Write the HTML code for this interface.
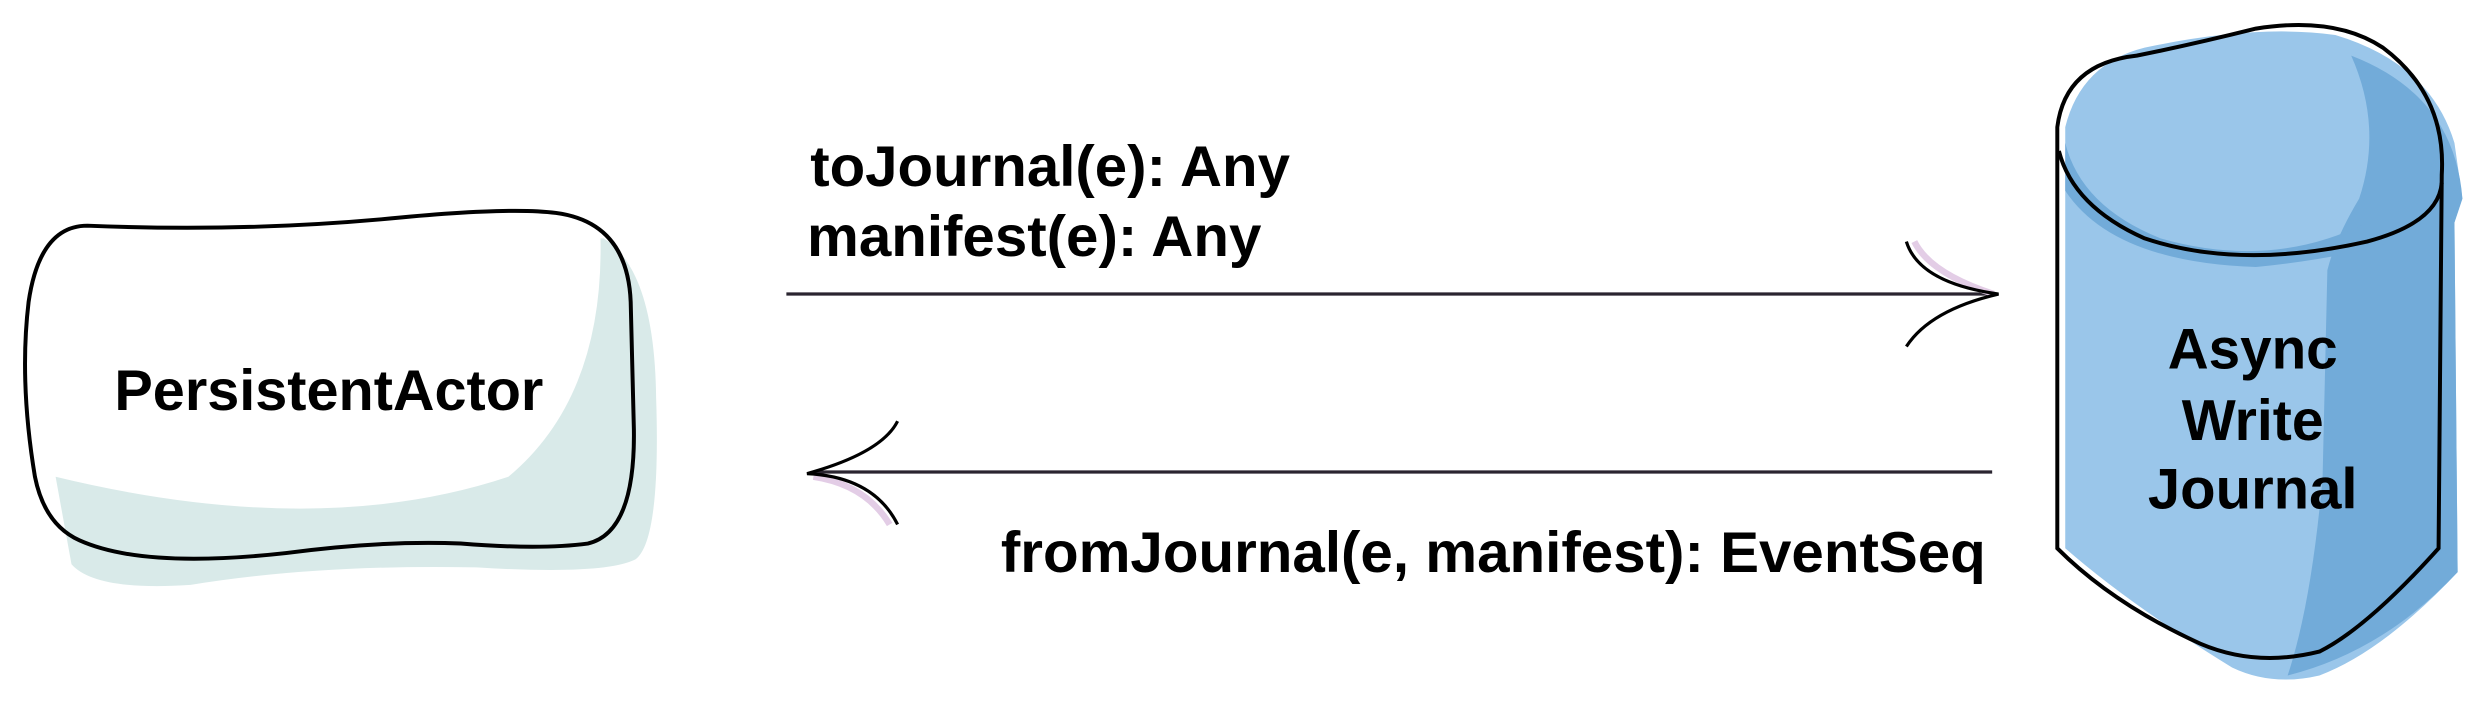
<!DOCTYPE html>
<html><head><meta charset="utf-8"><style>
html,body{margin:0;padding:0;background:#fff;width:2491px;height:712px;overflow:hidden}
svg{display:block}
text{font-family:"Liberation Sans",Arial,sans-serif;font-weight:bold;fill:#000}
</style></head><body>
<svg width="2491" height="712" viewBox="0 0 1568 448" preserveAspectRatio="none">
<path d="M380,150 Q412,170 413,250 Q416,340 400,352 Q380,362 300,357 Q200,355 120,368 Q60,372 45,355 L35,300 Q200,340 320,300 Q380,250 378,150 Z" fill="#d9eae9"/>
<path d="M55,142 Q150,146 240,138 Q320,130 350,134 Q395,140 397,190 L399,270 Q400,335 370,342 Q340,346 290,342 Q240,340 180,348 Q90,358 50,340 Q28,330 22,300 Q12,240 18,190 Q25,142 55,142 Z" fill="none" stroke="#000" stroke-width="2.5"/>
<text x="207" y="258" font-size="36" text-anchor="middle" textLength="270" lengthAdjust="spacingAndGlyphs">PersistentActor</text>
<text x="510" y="117" font-size="36" textLength="302" lengthAdjust="spacingAndGlyphs">toJournal(e): Any</text>
<text x="508" y="161" font-size="36" textLength="286" lengthAdjust="spacingAndGlyphs">manifest(e): Any</text>
<text x="630" y="360" font-size="36" textLength="620" lengthAdjust="spacingAndGlyphs">fromJournal(e, manifest): EventSeq</text>
<line x1="495" y1="185" x2="1256" y2="185" stroke="#2a2530" stroke-width="2"/>
<path d="M1205,152 Q1215,172 1255,185" fill="none" stroke="#e3cde6" stroke-width="4"/>
<path d="M1200,152 Q1208,178 1258,185 Q1215,195 1200,218" fill="none" stroke="#000" stroke-width="2"/>
<line x1="1254" y1="297" x2="512" y2="297" stroke="#2a2530" stroke-width="2"/>
<path d="M512,300 Q545,305 560,330" fill="none" stroke="#e3cde6" stroke-width="4"/>
<path d="M565,265 Q555,285 508,298 Q550,300 565,330" fill="none" stroke="#000" stroke-width="2"/>
<path d="M1300,80 Q1310,40 1350,30 Q1420,15 1470,22 Q1530,40 1545,90 L1550,125 L1545,140 L1547,360 Q1500,410 1460,425 Q1430,432 1405,420 Q1340,380 1300,345 Z" fill="#9ac6ea"/>
<path d="M1480,35 Q1500,80 1485,125 Q1470,150 1465,170 L1462,300 Q1455,380 1440,425 Q1500,410 1547,360 L1545,140 L1550,125 Q1545,60 1480,35 Z" fill="#72abd9"/>
<path d="M1300,90 Q1310,130 1360,150 Q1430,170 1490,140 L1535,140 Q1500,160 1420,168 Q1330,165 1300,120 Z" fill="#72abd9"/>
<path d="M1295,345 L1295,80 Q1300,40 1345,35 Q1380,28 1420,18 Q1470,10 1500,30 Q1540,60 1537,110 L1535,345 Q1490,395 1460,410 Q1420,420 1385,405 Q1330,380 1295,345 Z" fill="none" stroke="#000" stroke-width="2.5"/>
<path d="M1296,95 Q1305,130 1350,150 Q1410,170 1490,152 Q1535,140 1537,115" fill="none" stroke="#000" stroke-width="2.5"/>
<text x="1418" y="232" font-size="36" text-anchor="middle" textLength="107" lengthAdjust="spacingAndGlyphs">Async</text>
<text x="1418" y="277" font-size="36" text-anchor="middle">Write</text>
<text x="1418" y="320" font-size="36" text-anchor="middle" textLength="132" lengthAdjust="spacingAndGlyphs">Journal</text>
</svg>
</body></html>
